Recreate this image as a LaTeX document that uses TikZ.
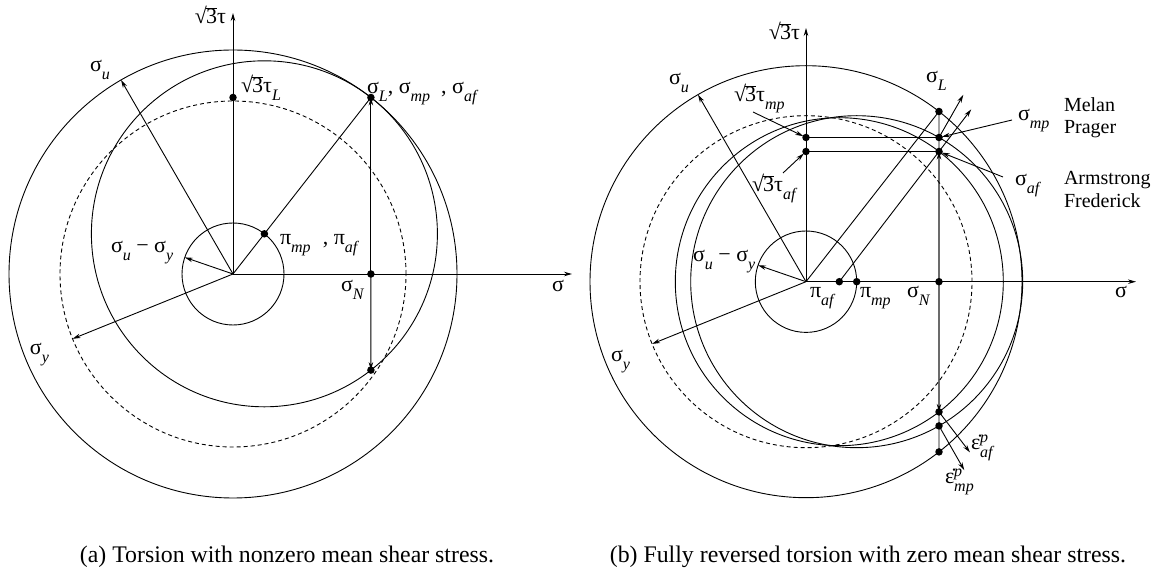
\documentclass[tikz,border=0pt]{standalone}
\usepackage{fontspec}
\setmainfont{Liberation Serif}
\usetikzlibrary{arrows.meta,calc}
\newcommand{\lbsz}{\fontsize{22}{26}\selectfont}
\newcommand{\smsz}{\fontsize{16}{19}\selectfont}
\newcommand{\nmsz}{\fontsize{20}{23}\selectfont}
\newcommand{\capsz}{\fontsize{23.8}{28}\selectfont}
\newcommand{\dn}[1]{\raisebox{-0.36em}{\smsz\itshape #1}}
\newcommand{\upx}[1]{\raisebox{0.36em}{\smsz\itshape #1}}
\newcommand{\rtt}{√\kern-0.04em\rlap{\rule[0.70em]{0.5em}{0.045em}}3}
\newcommand{\edt}{ε̇}
\begin{document}
\begin{tikzpicture}[x=1pt,y=1pt,line width=0.9pt,
  every node/.style={font=\lbsz,inner sep=0pt,outer sep=0pt},
  >={Stealth[length=8pt,width=4.5pt]},
  blackdot/.style={circle,fill,inner sep=0pt,minimum size=7.5pt},
  dsh/.style={dash pattern=on 4pt off 3pt},
  lab/.style={anchor=base west},
  labe/.style={anchor=base east},
  notetext/.style={anchor=base west,font=\nmsz},
  captext/.style={anchor=base,font=\capsz},
  lblarrow/.style={->,shorten >=3pt}]
\useasboundingbox (0,0) rectangle (1160,576);
% ---------------- panel (a)
\coordinate (Oa) at (233,302);
\coordinate (ta) at (233,563);
\coordinate (sa) at (572,302);
\coordinate (pia) at ($(Oa)+(52:51)$);
\coordinate (sLa) at ($(Oa)+(52:224)$);
\coordinate (tLa) at (Oa |- sLa);
\coordinate (sNa) at (sLa |- Oa);
\coordinate (lowa) at ($(Oa)+(137.9,-96.1)$);
\coordinate (ua) at ($(Oa)+(120:224)$);
\coordinate (ya) at ($(Oa)+(202:173)$);
\coordinate (uya) at ($(Oa)+(161:51)$);
\draw (Oa) circle[radius=224pt];
\draw (Oa) circle[radius=51pt];
\draw[dsh] (Oa) circle[radius=173pt];
\draw (pia) circle[radius=173pt];
\draw[->] (Oa) -- (ta);
\draw[->] (Oa) -- (sa);
\draw[->] (Oa) -- (ua);
\draw[->] (Oa) -- (ya);
\draw[->] (Oa) -- (uya);
\draw (Oa) -- (sLa);
\draw[->] (sNa) -- (sLa);
\draw[->] (sNa) -- (lowa);
\foreach \p in {tLa,sLa,pia,sNa,lowa} \node[blackdot] at (\p) {};
\node[labe] (la1) at (226,552) {\rtt τ};
\node[lab] (la2) at (90,504) {σ\dn{u}};
\node[lab] (la3) at (241,483) {\rtt τ\dn{L}};
\node[lab] (la4) at (367,482) {σ\dn{L}, σ\dn{mp}\hspace{0.25em} , σ\dn{af}};
\node[lab] (la5) at (280,331) {π\dn{mp}\hspace{0.3em} , π\dn{af}};
\node[lab] (la6) at (111,323) {σ\dn{u} − σ\dn{y}};
\node[lab] (la7) at (341,284) {σ\dn{N}};
\node[lab] (la8) at (552,284) {σ};
\node[lab] (la9) at (30,221) {σ\dn{y}};
\node[captext] (capa) at (287,13) {(a) Torsion with nonzero mean shear stress.};
% ---------------- panel (b)
\coordinate (Ob) at (806,294.3);
\coordinate (tb) at (806,548);
\coordinate (sb) at (1136,294.3);
\coordinate (pimp) at ($(Ob)+(50.7,0)$);
\coordinate (piaf) at ($(Ob)+(33.3,0)$);
\coordinate (sLb) at ($(Ob)+(52:216)$);
\coordinate (sNb) at (sLb |- Ob);
\coordinate (smp) at (939,438.5);
\coordinate (saf) at (939,424.5);
\coordinate (lmp) at (939,150.1);
\coordinate (laf) at (939,164.1);
\coordinate (lout) at (939,124.1);
\coordinate (tmp) at (Ob |- smp);
\coordinate (taf) at (Ob |- saf);
\coordinate (ub) at ($(Ob)+(120:216)$);
\coordinate (yb) at ($(Ob)+(202:166)$);
\coordinate (uyb) at ($(Ob)+(161:50.7)$);
\coordinate (nmp) at ($(smp)+(60.3:49)$);
\coordinate (naf) at ($(saf)+(52.6:53)$);
\coordinate (emp) at ($(lmp)+(-60.3:51)$);
\coordinate (eaf) at ($(laf)+(-52.6:51)$);
\draw (Ob) circle[radius=216pt];
\draw (Ob) circle[radius=50.7pt];
\draw[dsh] (Ob) circle[radius=166pt];
\draw (pimp) circle[radius=166pt];
\draw (piaf) circle[radius=164pt];
\draw[->] (Ob) -- (tb);
\draw[->] (Ob) -- (sb);
\draw[->] (Ob) -- (ub);
\draw[->] (Ob) -- (yb);
\draw[->] (Ob) -- (uyb);
\draw (Ob) -- (sLb);
\draw (piaf) -- (saf);
\draw[line width=1.2pt] (tmp) -- (smp);
\draw[line width=1.2pt] (taf) -- (saf);
\draw (sLb) -- (lout);
\draw[->] (sNb) -- (saf);
\draw[->] (sNb) -- (laf);
\draw[->] (smp) -- (nmp);
\draw[->] (saf) -- (naf);
\draw[->] (lmp) -- (emp);
\draw[->] (laf) -- (eaf);
\foreach \p in {sLb,smp,saf,tmp,taf,piaf,pimp,sNb,lmp,laf,lout} \node[blackdot] at (\p) {};
\node[labe] (lb1) at (800,536) {\rtt τ};
\node[lab] (lb2) at (669,491) {σ\dn{u}};
\node[lab] (lb3) at (926,493) {σ\dn{L}};
\node[lab] (lb4) at (734,474) {\rtt τ\dn{mp}};
\node[lab] (lb5) at (752,384) {\rtt τ\dn{af}};
\node[lab] (lb6) at (1018,455) {σ\dn{mp}};
\node[lab] (lb7) at (1015,390) {σ\dn{af}};
\node[notetext] (lb8) at (1064,464) {Melan};
\node[notetext] (lb9) at (1064,442) {Prager};
\node[notetext] (lb10) at (1064,391) {Armstrong};
\node[notetext] (lb11) at (1064,368) {Frederick};
\node[lab] (lb12) at (810,278) {π\dn{af}};
\node[lab] (lb13) at (860,278) {π\dn{mp}};
\node[lab] (lb14) at (907,278) {σ\dn{N}};
\node[lab] (lb15) at (1115,278) {σ};
\node[lab] (lb16) at (693,314) {σ\dn{u} − σ\dn{y}};
\node[lab] (lb17) at (611,214) {σ\dn{y}};
\node[lab] (lb18) at (971,126) {\edt\rlap{\upx{p}}\dn{af}};
\node[lab] (lb19) at (945,92) {\edt\rlap{\upx{p}}\dn{mp}};
\node[captext] (capb) at (868,13) {(b) Fully reversed torsion with zero mean shear stress.};
\coordinate (a1) at (753,464);
\coordinate (a2) at (783,403);
\coordinate (a3) at (1012,456);
\coordinate (a4) at (1003,399);
\draw[lblarrow] (a1) -- (tmp);
\draw[lblarrow] (a2) -- (taf);
\draw[lblarrow] (a3) -- (smp);
\draw[lblarrow] (a4) -- (saf);
\end{tikzpicture}
\end{document}
